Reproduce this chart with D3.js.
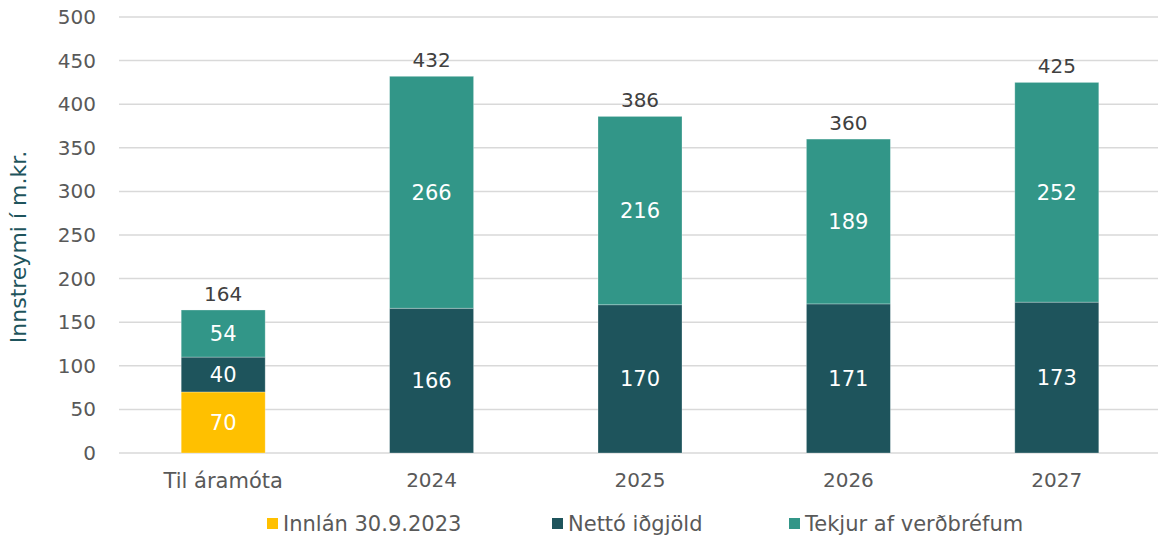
<!DOCTYPE html>
<html>
<head>
<meta charset="utf-8">
<script src="https://cdn.jsdelivr.net/npm/d3@7"></script>
<style>
  html, body { margin: 0; padding: 0; background: #fff; }
  svg { display: block; font-family: "DejaVu Sans", Verdana, sans-serif; }
</style>
</head>
<body>
<svg id="chart" width="1158" height="538"></svg>
<script>
// Inflow per period, millions of krónur
const categories = ["Til áramóta", "2024", "2025", "2026", "2027"];
const seriesNames = ["Innlán 30.9.2023", "Nettó iðgjöld", "Tekjur af verðbréfum"];
const innlan = [70, 0, 0, 0, 0];
const nettoIdgjold = [40, 166, 170, 171, 173];
const tekjurVerdbref = [54, 266, 216, 189, 252];
const totals = [164, 432, 386, 360, 425];
const yTicks = [0, 50, 100, 150, 200, 250, 300, 350, 400, 450, 500];
const colors = ["#FFC000", "#1E545C", "#329688"];

const FONT = "DejaVu Sans, Verdana, sans-serif";
const numSize = "20px";
const wordSize = "21px";

const svg = d3.select("#chart");
const plot = { left: 119, right: 1161, top: 17, bottom: 453 };

const x = d3.scaleBand().domain(categories).range([plot.left, plot.right])
  .paddingInner(0.597).paddingOuter(0.2985);
const y = d3.scaleLinear().domain([0, 500]).range([plot.bottom, plot.top]);

// gridlines
svg.append("g").selectAll("line").data(yTicks).join("line")
  .attr("x1", plot.left).attr("x2", plot.right)
  .attr("y1", d => y(d)).attr("y2", d => y(d))
  .attr("stroke", "#d9d9d9").attr("stroke-width", 1.5);

// y axis labels
const yAxis = svg.append("g").attr("transform", `translate(${plot.left - 6},0)`)
  .call(d3.axisLeft(y).tickValues(yTicks).tickSize(0).tickPadding(17));
yAxis.select(".domain").remove();
yAxis.selectAll("text").attr("fill", "#595959").style("font-size", numSize)
  .style("font-family", FONT);

// x axis labels
const xAxis = svg.append("g").attr("transform", `translate(0,${plot.bottom})`)
  .call(d3.axisBottom(x).tickSize(0).tickPadding(20));
xAxis.select(".domain").remove();
xAxis.selectAll("text").attr("fill", "#595959")
  .style("font-size", d => /^\d+$/.test(d) ? numSize : wordSize)
  .style("font-family", FONT);

// stacked bars
const rows = categories.map((c, i) => ({
  cat: c, s0: innlan[i], s1: nettoIdgjold[i], s2: tekjurVerdbref[i]
}));
const stack = d3.stack().keys(["s0", "s1", "s2"])(rows);

stack.forEach((layer, li) => {
  const g = svg.append("g");
  layer.forEach((d, i) => {
    const v = d[1] - d[0];
    if (v <= 0) return;
    g.append("rect")
      .attr("x", x(categories[i])).attr("width", x.bandwidth())
      .attr("y", y(d[1])).attr("height", y(d[0]) - y(d[1]))
      .attr("fill", colors[li])
      .attr("stroke", "rgba(255,255,255,0.35)").attr("stroke-width", 0.8);
    g.append("text")
      .attr("x", x(categories[i]) + x.bandwidth() / 2)
      .attr("y", (y(d[0]) + y(d[1])) / 2)
      .attr("dy", "0.36em").attr("text-anchor", "middle")
      .attr("fill", "#fff").style("font-size", "21px")
      .text(v);
  });
});

// totals above bars
svg.append("g").selectAll("text").data(totals).join("text")
  .attr("x", (d, i) => x(categories[i]) + x.bandwidth() / 2)
  .attr("y", d => y(d) - 9)
  .attr("text-anchor", "middle").attr("fill", "#404040")
  .style("font-size", numSize).text(d => d);

// y axis title
svg.append("text")
  .attr("transform", `translate(26,247) rotate(-90)`)
  .attr("text-anchor", "middle").attr("fill", "#1E545C")
  .style("font-size", "22px").text("Innstreymi í m.kr.");

// legend
const legendX = [267, 552, 789];
const lg = svg.append("g");
seriesNames.forEach((n, i) => {
  lg.append("rect").attr("x", legendX[i]).attr("y", 518)
    .attr("width", 11).attr("height", 11).attr("fill", colors[i]);
  lg.append("text").attr("x", legendX[i] + 16).attr("y", 530.5)
    .attr("fill", "#595959")
    .style("font-size", wordSize).text(n);
});
</script>
</body>
</html>
